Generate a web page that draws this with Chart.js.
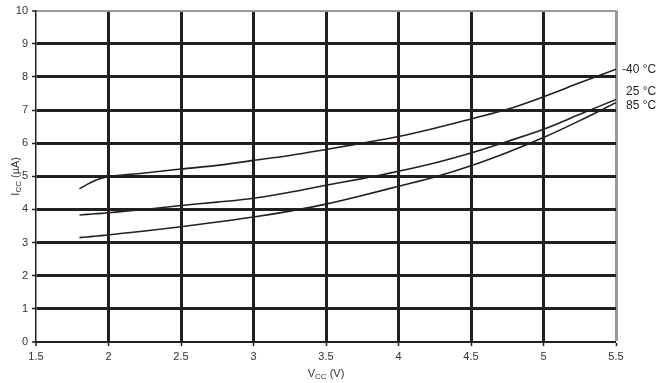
<!DOCTYPE html>
<html>
<head>
<meta charset="utf-8">
<script src="https://cdn.jsdelivr.net/npm/chart.js@4/dist/chart.umd.min.js"></script>
<style>
html,body{margin:0;padding:0;background:#fff}
#wrap{width:657px;height:383px}
</style>
</head>
<body>
<div id="wrap"><canvas id="c" width="657" height="383"></canvas></div>
<script>
// supply voltage (V)
const vcc = [1.8, 1.85, 1.9, 1.95, 2.0, 2.1, 2.25, 2.5, 2.75, 3.0, 3.25, 3.5, 3.75, 4.0, 4.25, 4.5, 4.75, 5.0, 5.25, 5.5]
// supply current (uA) per temperature
const iccM40 = [4.62, 4.75, 4.86, 4.94, 4.99, 5.04, 5.1, 5.22, 5.33, 5.48, 5.63, 5.81, 6.0, 6.2, 6.45, 6.73, 7.02, 7.4, 7.82, 8.23]
const icc25 = [3.83, 3.85, 3.87, 3.88, 3.9, 3.94, 4.0, 4.12, 4.22, 4.34, 4.52, 4.73, 4.93, 5.15, 5.4, 5.7, 6.05, 6.42, 6.87, 7.32]
const icc85 = [3.15, 3.17, 3.19, 3.21, 3.23, 3.28, 3.35, 3.48, 3.62, 3.77, 3.95, 4.16, 4.42, 4.7, 4.98, 5.32, 5.72, 6.17, 6.68, 7.22]
const seriesNames = ["-40 °C", "25 °C", "85 °C"]

const FONT = "'Liberation Sans', Arial, sans-serif"

function pts(ys){
return vcc.map((x,i)=>({x:x,y:ys[i]}))
}

function line(name, ys){
return {
label:name,
data:pts(ys),
borderColor:"#231f20",
borderWidth:1.6,
pointRadius:0,
cubicInterpolationMode:"monotone",
fill:false
}
}

// series labels at the right end + axis titles with subscripts
const annot = {
id:"annot",
afterDraw(chart){
const ctx = chart.ctx
const xs = chart.scales.x, ys = chart.scales.y
ctx.save()
ctx.fillStyle = "#231f20"
ctx.font = "12px " + FONT
ctx.textBaseline = "middle"
const shift = [0, -8, 3]
chart.data.datasets.forEach((ds,i)=>{
const last = ds.data[ds.data.length-1]
const py = ys.getPixelForValue(last.y) + shift[i]
ctx.textAlign = "left"
ctx.fillText(ds.label, xs.right + (i == 0 ? 6 : 10), py)
})

function sub(main, s, rest, cx, cy){
ctx.font = "11px " + FONT
const w1 = ctx.measureText(main).width
ctx.font = "8px " + FONT
const w2 = ctx.measureText(s).width
ctx.font = "11px " + FONT
const w3 = ctx.measureText(rest).width
let x0 = cx - (w1+w2+w3)/2
ctx.textAlign = "left"
ctx.textBaseline = "alphabetic"
ctx.fillText(main, x0, cy)
ctx.font = "8px " + FONT
ctx.fillText(s, x0+w1, cy+2)
ctx.font = "11px " + FONT
ctx.fillText(rest, x0+w1+w2, cy)
}
ctx.fillStyle = "#333"
sub("V", "CC", " (V)", (xs.left+xs.right)/2, 377)
ctx.save()
ctx.translate(19, (ys.top+ys.bottom)/2)
ctx.rotate(-Math.PI/2)
sub("I", "CC", " (µA)", 0, 0)
ctx.restore()
ctx.restore()
}
}

new Chart(document.getElementById("c"), {
type:"line",
data:{
datasets:[
line(seriesNames[0], iccM40),
line(seriesNames[1], icc25),
line(seriesNames[2], icc85)
]
},
options:{
responsive:false,
animation:false,
layout:{padding:{top:8, right:41, left:0, bottom:0}},
plugins:{legend:{display:false}, tooltip:{enabled:false}},
scales:{
x:{
type:"linear",
min:1.5, max:5.5,
ticks:{stepSize:0.5, color:"#333", font:{family:FONT, size:11}, padding:4, maxRotation:0,
callback:v=>String(v)},
grid:{
color:c=>c.tick.value==5.5 ? "#999" : "#231f20",
lineWidth:c=>c.tick.value==1.5 ? 0 : 3,
tickLength:4,
tickColor:"#231f20",
tickWidth:1.5
},
border:{display:true, color:"#231f20", width:2},
afterFit:s=>{s.height=41}
},
y:{
min:0, max:10,
ticks:{stepSize:1, color:"#333", font:{family:FONT, size:11}, padding:4},
grid:{
color:c=>c.tick.value==10 ? "#999" : "#231f20",
lineWidth:c=>c.tick.value==0 ? 0 : (c.tick.value==10 ? 2 : 3),
tickLength:4,
tickColor:"#231f20",
tickWidth:1.5
},
border:{display:true, color:"#231f20", width:1.5},
afterFit:s=>{s.width=36}
}
}
},
plugins:[annot]
})
</script>
</body>
</html>
